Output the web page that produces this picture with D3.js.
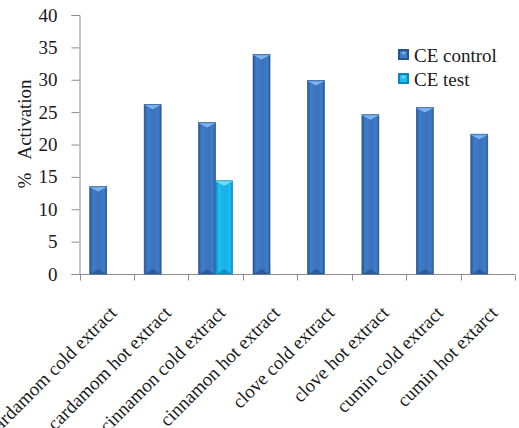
<!DOCTYPE html>
<html>
<head>
<meta charset="utf-8">
<script src="https://cdn.jsdelivr.net/npm/d3@7/dist/d3.min.js"></script>
<style>
  html, body { margin: 0; padding: 0; background: #fff; }
  svg { display: block; }
  svg text { font-family: "Liberation Serif", "Times New Roman", serif; fill: #1a1a1a; }
</style>
</head>
<body>
<svg id="chart" width="519" height="428"></svg>
<script>
// Extract categories and % activation per series
const categories = [
  "cardamom cold extract", "cardamom hot extract", "cinnamon cold extract",
  "cinnamon hot extract", "clove cold extract", "clove hot extract",
  "cumin cold extract", "cumin hot extarct"
];
const seriesNames = ["CE control", "CE test"];
const controlValues = [13.5, 26.2, 23.4, 33.9, 29.9, 24.6, 25.7, 21.6];
const testValues = [null, null, 14.4, null, null, null, null, null];
const yTicks = [0, 5, 10, 15, 20, 25, 30, 35, 40];

const FONT = "'Liberation Serif', 'Times New Roman', serif";
const svg = d3.select("#chart");
const m = { left: 79.5, right: 4, top: 15, bottom: 154 };
const W = 519, H = 428;

const x = d3.scaleBand().domain(categories).range([m.left, W - m.right]).paddingInner(0).paddingOuter(0);
const xs = d3.scaleBand().domain(seriesNames).range([0, x.bandwidth()]).paddingInner(0).paddingOuter(0.6);
const y = d3.scaleLinear().domain([0, 40]).range([H - m.bottom, m.top]);

// gradients: darker edges, brighter face
const defs = svg.append("defs");
const palettes = {
  "CE control": { edge: "#28538f", face: "#3f7cc9", mid: "#3a73bd", top: "#7db4ec", bottom: "#24497d" },
  "CE test":    { edge: "#0a86bb", face: "#1cbcf2", mid: "#16b0e8", top: "#7ad8fa", bottom: "#0a78a8" }
};
Object.entries(palettes).forEach(([name, p], i) => {
  const g = defs.append("linearGradient").attr("id", "g" + i).attr("x1", 0).attr("x2", 1).attr("y1", 0).attr("y2", 0);
  g.append("stop").attr("offset", 0).attr("stop-color", p.edge);
  g.append("stop").attr("offset", 0.18).attr("stop-color", p.face);
  g.append("stop").attr("offset", 0.6).attr("stop-color", p.mid);
  g.append("stop").attr("offset", 0.85).attr("stop-color", p.face);
  g.append("stop").attr("offset", 1).attr("stop-color", p.edge);
});

// y axis
const yAxis = svg.append("g").attr("transform", `translate(${m.left},0)`)
  .call(d3.axisLeft(y).tickValues(yTicks).tickSize(8).tickPadding(14));
yAxis.attr("font-family", null).attr("font-size", null);
yAxis.select(".domain").attr("stroke", "#8c8c8c");
yAxis.selectAll(".tick line").attr("stroke", "#8c8c8c");
yAxis.selectAll(".tick text").attr("fill", "#1a1a1a")
  .style("font-family", FONT).style("font-size", "19px");

// x axis with ticks at category boundaries
const xAxisG = svg.append("g").attr("transform", `translate(0,${y(0) + 0.5})`);
xAxisG.append("line").attr("x1", m.left).attr("x2", W - m.right).attr("stroke", "#8c8c8c");
const bounds = categories.map(c => x(c)).concat([x(categories[categories.length - 1]) + x.bandwidth()]);
xAxisG.selectAll("line.tk").data(bounds).join("line").attr("class", "tk")
  .attr("x1", d => Math.round(d) + 0.5).attr("x2", d => Math.round(d) + 0.5)
  .attr("y1", 0).attr("y2", 6).attr("stroke", "#8c8c8c");

// category labels rotated
svg.append("g").selectAll("text").data(categories).join("text")
  .attr("transform", c => `translate(${x(c) + x.bandwidth() / 2 + 11},${y(0) + 40}) rotate(-45)`)
  .attr("text-anchor", "end")
  .style("font-family", FONT)
  .style("font-size", "19px")
  .text(c => c);

// bars
const rows = categories.map((c, i) => ({ c, vals: [controlValues[i], testValues[i]] }));
const barG = svg.append("g");
rows.forEach(r => {
  r.vals.forEach((v, si) => {
    if (v == null) return;
    const s = seriesNames[si];
    const p = palettes[s];
    const x0 = x(r.c) + xs(s);
    const bw = xs.bandwidth();
    const yt = y(v), yb = y(0);
    const g = barG.append("g");
    g.append("rect").attr("x", x0).attr("y", yt).attr("width", bw).attr("height", yb - yt)
      .attr("fill", `url(#g${si})`);
    // top bevel chevron
    g.append("polygon")
      .attr("points", [[x0 + 1, yt + 1], [x0 + bw - 1, yt + 1], [x0 + bw / 2, yt + 5]].map(pt => pt.join(",")).join(" "))
      .attr("fill", p.top);
    g.append("rect").attr("x", x0).attr("y", yt).attr("width", bw).attr("height", 1.2).attr("fill", p.top).attr("opacity", 0.8);
    // bottom shade
    g.append("polygon")
      .attr("points", [[x0 + 1, yb], [x0 + bw - 1, yb], [x0 + bw / 2, yb - 5]].map(pt => pt.join(",")).join(" "))
      .attr("fill", p.bottom).attr("opacity", 0.6);
    g.append("rect").attr("x", x0).attr("y", yt).attr("width", bw).attr("height", yb - yt)
      .attr("fill", "none").attr("stroke", p.edge).attr("stroke-width", 0.6);
  });
});

// legend
const legend = svg.append("g").attr("transform", "translate(398,49)");
seriesNames.forEach((s, i) => {
  const p = palettes[s];
  const lg = legend.append("g").attr("transform", `translate(0,${i * 24})`);
  lg.append("rect").attr("x", 0).attr("y", 0).attr("width", 11).attr("height", 11).attr("fill", p.edge);
  lg.append("rect").attr("x", 2).attr("y", 2).attr("width", 7).attr("height", 7).attr("fill", p.face);
  lg.append("polygon").attr("points", "3,3 8,3 5.5,6").attr("fill", p.top);
  lg.append("text").attr("x", 16).attr("y", 13)
    .style("font-family", FONT).style("font-size", "19px").text(s);
});

// y axis title
svg.append("text")
  .attr("transform", `translate(31,134) rotate(-90)`)
  .attr("text-anchor", "middle")
  .style("font-family", FONT)
  .style("font-size", "19px")
  .style("white-space", "pre")
  .text("%   Activation");
</script>
</body>
</html>
